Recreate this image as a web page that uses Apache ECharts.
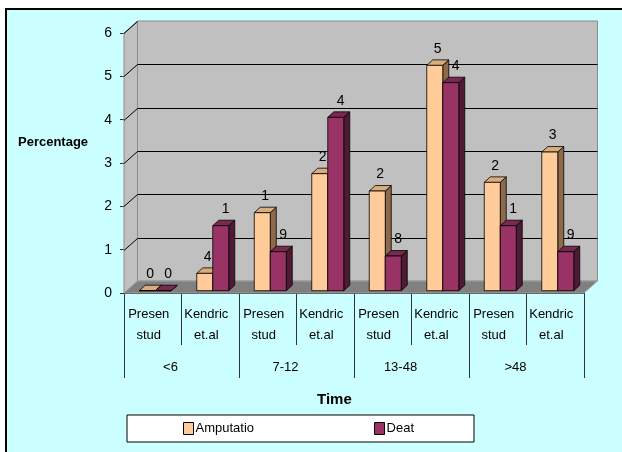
<!DOCTYPE html>
<html><head><meta charset="utf-8">
<script src="https://cdn.jsdelivr.net/npm/echarts@6/dist/echarts.min.js"></script>
<style>
html,body{margin:0;padding:0;background:#fff;}
#bg{position:absolute;left:5px;top:8px;width:617px;height:444px;background:#CCFFFF;border-left:2px solid #000;border-top:2px solid #000;box-sizing:border-box;}
#chart{position:absolute;left:0;top:0;width:622px;height:452px;}
</style></head><body>
<div id="bg"></div><div id="chart"></div>
<script>
// ---- data ----
const subCategories = ['Presen\nstud','Kendric\net.al','Presen\nstud','Kendric\net.al','Presen\nstud','Kendric\net.al','Presen\nstud','Kendric\net.al'];
const timeGroups = ['<6','7-12','13-48','>48'];
const amputation = [0, 0.4, 1.8, 2.7, 2.3, 5.2, 2.5, 3.2];
const death = [0, 1.5, 0.9, 4.0, 0.8, 4.8, 1.5, 0.9];
const amputationLabels = ['0','4','1','2','2','5','2','3'];
const deathLabels = ['0','1','9','4','8','4','1','9'];
const yTicks = [0,1,2,3,4,5,6];
const seriesNames = ['Amputatio','Deat'];

const FONT = '"Liberation Sans",Arial,sans-serif';

function renderFrame(params, api){
  const cs = params.coordSys;
  const x = cs.x, y = cs.y, w = cs.width, h = cs.height;
  const dx = 13.5, dy = -12;
  const ch = [];
  ch.push({type:'polygon', shape:{points:[[x,y],[x+dx,y+dy],[x+dx,y+h+dy],[x,y+h]]}, style:{fill:'#C0C0C0', stroke:'#8c8c8c', lineWidth:1}});
  ch.push({type:'rect', shape:{x:x+dx, y:y+dy, width:w, height:h}, style:{fill:'#C0C0C0', stroke:'#8c8c8c', lineWidth:1}});
  ch.push({type:'polygon', shape:{points:[[x,y+h],[x+dx,y+h+dy],[x+w+dx,y+h+dy],[x+w,y+h]]}, style:{fill:'#808080', stroke:'#a0a0a0', lineWidth:1}});
  yTicks.forEach(function(v){
    if (v === 0) return;
    const yy = Math.round(api.coord([0, v])[1]) + 0.5;
    ch.push({type:'line', shape:{x1:x, y1:yy, x2:x+dx, y2:yy+dy}, style:{stroke:'#000', lineWidth:1}});
    if (v < yTicks[yTicks.length-1]) {
      ch.push({type:'line', shape:{x1:x+dx, y1:yy+dy, x2:x+w+dx, y2:yy+dy}, style:{stroke:'#000', lineWidth:1}});
    }
  });
  return {type:'group', children: ch};
}

function makeBarRenderer(side, front, topC, sideC, labels){
  return function(params, api){
    const i = api.value(0), v = api.value(1);
    const base = api.coord([i, 0]);
    const top = api.coord([i, v]);
    const bw = 16, sx = 2.5, sy = -2.3, ddx = 6, ddy = -5.5;
    const x0 = base[0] + sx + (side === 0 ? -bw : 0);
    const by = base[1] + sy, ty = top[1] + sy;
    const st = {stroke:'#000', lineWidth:0.8, lineJoin:'round'};
    return {type:'group', children:[
      {type:'polygon', shape:{points:[[x0+bw,ty],[x0+bw+ddx,ty+ddy],[x0+bw+ddx,by+ddy],[x0+bw,by]]}, style:Object.assign({fill:sideC}, st)},
      {type:'polygon', shape:{points:[[x0,ty],[x0+ddx,ty+ddy],[x0+bw+ddx,ty+ddy],[x0+bw,ty]]}, style:Object.assign({fill:topC}, st)},
      {type:'rect', shape:{x:x0, y:ty, width:bw, height:by-ty}, style:Object.assign({fill:front}, st)},
      {type:'text', style:{text: labels[params.dataIndex], x: x0 + bw/2 + 3 + side*2, y: ty + ddy - 4,
        align:'center', verticalAlign:'bottom', textAlign:'center', textVerticalAlign:'bottom',
        fill:'#000', fontSize:14, fontFamily:FONT}}
    ]};
  };
}

const chart = echarts.init(document.getElementById('chart'), null, {renderer:'canvas'});
chart.setOption({
  backgroundColor: 'transparent',
  animation: false,
  textStyle: {fontFamily: FONT, color:'#000'},
  title: [
    {text:'Percentage', left: 13, top: 131, textStyle:{fontSize:13, fontWeight:'bold', fontFamily:FONT, color:'#000'}},
    {text:'Time', left: 312, top: 387, textStyle:{fontSize:15, fontWeight:'bold', fontFamily:FONT, color:'#000'}}
  ],
  grid: {left:124, right:38, top:33, bottom:159},
  legend: {
    data: seriesNames,
    left: 127, top: 415,
    padding: [7, 60, 7, 56],
    itemGap: 120,
    itemWidth: 10, itemHeight: 12,
    icon: 'rect',
    backgroundColor: '#fff', borderColor:'#000', borderWidth:1,
    itemStyle: {borderColor:'#000', borderWidth:1},
    textStyle: {fontSize:13, fontFamily:FONT, color:'#000', padding:[0,0,0,-3]}
  },
  xAxis: [
    {type:'category', data: subCategories, position:'bottom',
     axisLine:{show:true, lineStyle:{color:'#333'}},
     axisTick:{show:true, length:52, lineStyle:{color:'#333'}},
     axisLabel:{interval:0, fontSize:13, lineHeight:21, margin:11, color:'#000', fontFamily:FONT, padding:[0,8,0,0]}},
    {type:'category', data: timeGroups, position:'bottom',
     axisLine:{show:false},
     axisTick:{show:true, length:85, lineStyle:{color:'#333'}},
     axisLabel:{interval:0, fontSize:13, margin:68, color:'#000', fontFamily:FONT, padding:[0,22,0,0]}}
  ],
  yAxis: {type:'value', min:0, max:6, interval:1,
    axisLine:{show:true, lineStyle:{color:'#333'}},
    axisTick:{show:true, length:4, lineStyle:{color:'#333'}},
    splitLine:{show:false},
    axisLabel:{fontSize:14, margin:12, color:'#000', fontFamily:FONT}},
  series: [
    {type:'custom', name:'frame', silent:true, z:1, clip:false, renderItem: renderFrame, data:[[0,0]], encode:{x:0,y:1}},
    {type:'custom', name:seriesNames[0], z:2, clip:false, itemStyle:{color:'#FFCC99'},
     renderItem: makeBarRenderer(0, '#FFCC99', '#D8AC7C', '#8C6A4A', amputationLabels),
     data: amputation.map(function(v,i){return [i,v];}), encode:{x:0,y:1}},
    {type:'custom', name:seriesNames[1], z:3, clip:false, itemStyle:{color:'#993366'},
     renderItem: makeBarRenderer(1, '#993366', '#7A2850', '#4E1A34', deathLabels),
     data: death.map(function(v,i){return [i,v];}), encode:{x:0,y:1}}
  ]
});
</script>
</body></html>
